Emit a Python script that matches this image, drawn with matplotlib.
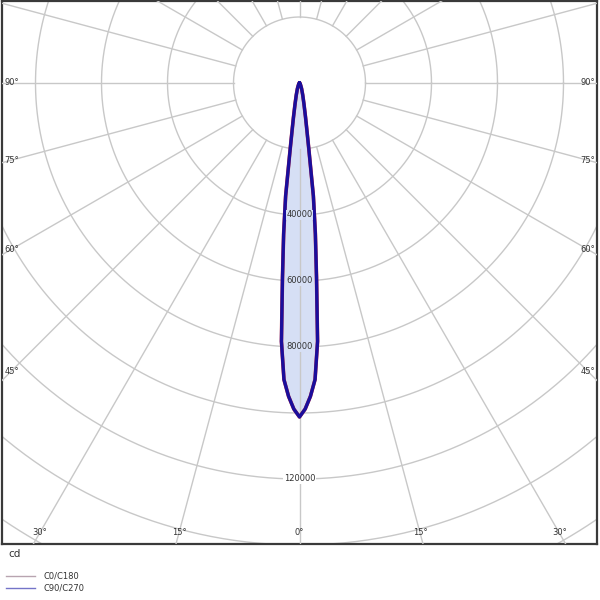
import numpy as np
import matplotlib
matplotlib.use("Agg")
import matplotlib.pyplot as plt

# ---- data ----
angles_deg = [0, 1, 2, 3, 4, 5, 6, 7, 8, 9, 10, 12, 15, 20, 25, 30, 40, 50, 60, 70, 80, 90]
intensity_c0_c180 = [101200, 98800, 95000, 90000, 78500, 59200, 46000, 34500, 20500, 14000,
                     10500, 6500, 3800, 1900, 1000, 600, 250, 100, 50, 20, 5, 0]
intensity_c90_c270 = [101200, 98800, 95000, 90000, 78500, 59200, 46000, 34500, 20500, 14000,
                      10500, 6500, 3800, 1900, 1000, 600, 250, 100, 50, 20, 5, 0]
ring_values = [20000, 40000, 60000, 80000, 100000, 120000, 140000, 160000]
ring_labels = [40000, 60000, 80000, 120000]
spoke_step = 15
angle_label_values = [90, 75, 60, 45]          # side labels
bottom_label_values = [30, 15, 0]              # bottom labels
legend_names = ["C0/C180", "C90/C270"]
unit = "cd"

# ---- layout (pixels) ----
W = H = 600
s = 0.0033                 # px per cd
cx, cy = 299.5, 83.0       # pole position in pixels
box_l, box_r, box_t, box_b = 2, 597, 1, 544

fig = plt.figure(figsize=(6, 6), dpi=100)
ax = fig.add_axes([box_l / W, 1 - box_b / H, (box_r - box_l) / W, (box_b - box_t) / H])
ax.set_xlim(-(cx - box_l) / s, (box_r - cx) / s)
ax.set_ylim(-(box_b - cy) / s, (cy - box_t) / s)
ax.set_xticks([])
ax.set_yticks([])
for sp in ax.spines.values():
    sp.set_color("#3a3a3a")
    sp.set_linewidth(1.6)

grid_c = "#c8c8c8"
# rings
phi = np.linspace(0, 2 * np.pi, 721)
for r in ring_values:
    ax.plot(r * np.cos(phi), r * np.sin(phi), color=grid_c, lw=1.0, zorder=1)

# curves
def xy(angles, vals):
    a = np.radians(np.asarray(angles, float))
    v = np.asarray(vals, float)
    a_full = np.concatenate([-a[::-1], a[1:]])
    v_full = np.concatenate([v[::-1], v[1:]])
    return v_full * np.sin(a_full), -v_full * np.cos(a_full)

x0, y0 = xy(angles_deg, intensity_c0_c180)
x1, y1 = xy(angles_deg, intensity_c90_c270)
ax.fill(x1, y1, color="#d6dff5", zorder=2, lw=0)

# spokes (above fill)
for a in range(0, 360, spoke_step):
    t = np.radians(a)
    ax.plot([20000 * np.sin(t), 300000 * np.sin(t)], [-20000 * np.cos(t), -300000 * np.cos(t)],
            color=grid_c, lw=1.0, zorder=3)

ax.plot(x0, y0, color="#c03040", lw=2.6, zorder=4, solid_joinstyle="round")
ax.plot(x1, y1, color="#1a0e9c", lw=2.4, zorder=5, solid_joinstyle="round")

# ring labels
for v in ring_labels:
    inside = v < max(intensity_c90_c270)
    ax.text(0, -v, str(v), ha="center", va="center", fontsize=6, color="#333333", zorder=6,
            bbox=dict(boxstyle="square,pad=0.1", fc="#d6dff5" if inside else "white", ec="none"))

# angle labels
xl = (11.5 - cx) / s
xr = (588 - cx) / s
yb = -(533 - cy) / s
def label_pos(a, side):
    t = np.radians(a)
    cands = []
    if np.sin(t) > 1e-9:
        cands.append(xr / np.sin(t))
    if np.cos(t) > 1e-9:
        cands.append(-yb / np.cos(t))
    d = min(cands)
    return side * d * np.sin(t), -d * np.cos(t)

for a in angle_label_values + bottom_label_values:
    sides = [1] if a == 0 else [-1, 1]
    for sd in sides:
        px, py = label_pos(a, sd)
        if a >= 45:
            px = xl if sd < 0 else xr
        ax.text(px, py, f"{a}°", ha="center", va="center", fontsize=6, color="#333333", zorder=6)

# unit and legend
fig.text(8 / W, 1 - 554 / H, unit, ha="left", va="center", fontsize=7.5, color="#333333")
leg_cols = ["#b8a4b0", "#7474c8"]
for i, (name, c) in enumerate(zip(legend_names, leg_cols)):
    yy = 1 - (576 + 12 * i) / H
    fig.add_artist(plt.Line2D([6 / W, 35 / W], [yy, yy], color=c, lw=1.0))
    fig.text(43 / W, yy, name, ha="left", va="center", fontsize=6, color="#333333")

fig.savefig("out.png", dpi=100, facecolor="white")
